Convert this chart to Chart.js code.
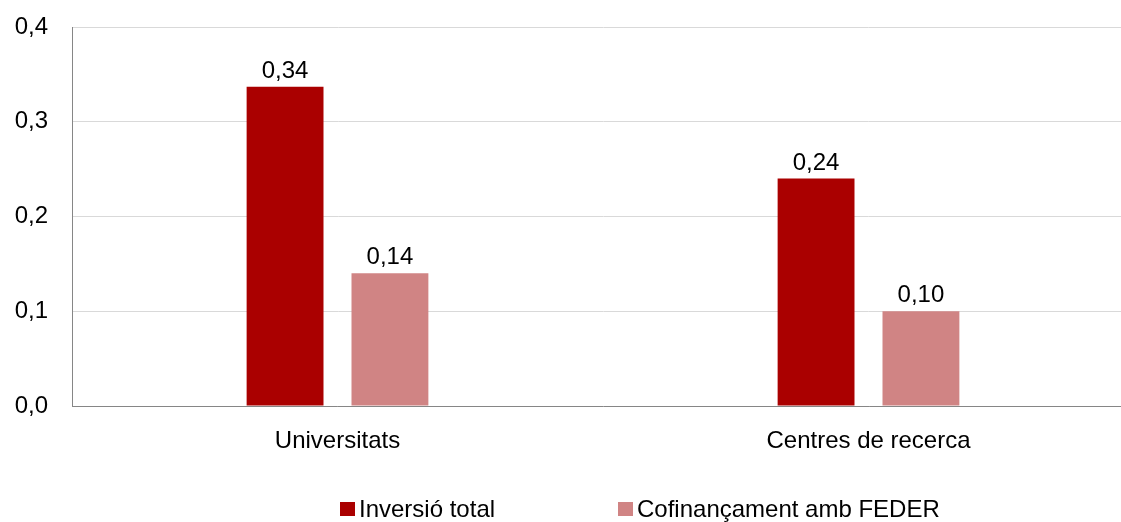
<!DOCTYPE html>
<html>
<head>
<meta charset="utf-8">
<script src="https://cdn.jsdelivr.net/npm/chart.js@4"></script>
<style>
  html, body { margin: 0; padding: 0; background: #ffffff; overflow: hidden; }
  #wrap { width: 1121px; height: 522px; position: relative; overflow: hidden; }
  #c { position: absolute; left: 0; top: 0; }
</style>
</head>
<body>
<div id="wrap"><canvas id="c" width="1134" height="522"></canvas></div>
<script>
const categories = ["Universitats", "Centres de recerca"];
const seriesNames = ["Inversió total", "Cofinançament amb FEDER"];
const inversioTotal = [0.337, 0.24];
const cofinancament = [0.14, 0.10];
const yTicks = [0.0, 0.1, 0.2, 0.3, 0.4];

const colors = ["#AA0000", "#D08484"];
const FONT = "'Liberation Sans', Arial, Helvetica, sans-serif";
const FS = 24;

const fmt = (v, d) => v.toFixed(d).replace('.', ',');

const dataLabels = {
  id: 'dataLabels',
  afterDatasetsDraw(chart) {
    const ctx = chart.ctx;
    ctx.save();
    ctx.font = FS + "px " + FONT;
    ctx.fillStyle = "#000000";
    ctx.textAlign = "center";
    ctx.textBaseline = "alphabetic";
    chart.data.datasets.forEach((ds, i) => {
      const meta = chart.getDatasetMeta(i);
      meta.data.forEach((bar, j) => {
        ctx.fillText(fmt(ds.data[j], 2), bar.x, bar.y - 9);
      });
    });
    ctx.restore();
  }
};

const customLegend = {
  id: 'customLegend',
  afterDraw(chart) {
    const ctx = chart.ctx;
    ctx.save();
    ctx.font = FS + "px " + FONT;
    ctx.textBaseline = "middle";
    ctx.textAlign = "left";
    const yMid = 509;
    const startX = 340;
    const step = 278;
    chart.data.datasets.forEach((ds, i) => {
      const x = startX + i * step;
      ctx.fillStyle = ds.backgroundColor;
      ctx.fillRect(x, yMid - 7, 15, 14);
      ctx.fillStyle = "#000000";
      ctx.fillText(ds.label, x + 19, yMid + 1);
    });
    ctx.restore();
  }
};

new Chart(document.getElementById('c'), {
  type: 'bar',
  data: {
    labels: categories,
    datasets: [
      { label: seriesNames[0], data: inversioTotal, backgroundColor: colors[0] },
      { label: seriesNames[1], data: cofinancament, backgroundColor: colors[1] }
    ]
  },
  options: {
    responsive: false,
    animation: false,
    devicePixelRatio: 1,
    layout: { padding: { top: 27, left: 0, right: 0, bottom: 0 } },
    datasets: { bar: { categoryPercentage: 0.395, barPercentage: 0.733 } },
    plugins: {
      legend: { display: false },
      tooltip: { enabled: false }
    },
    scales: {
      x: {
        grid: { display: false },
        border: { color: "#868686", width: 1 },
        ticks: { color: "#000000", font: { family: FONT, size: FS }, padding: 13 },
        afterFit(scale) {
          scale.height = 116;
          scale.paddingLeft = 0; scale.paddingRight = 0;
        }
      },
      y: {
        min: 0, max: 0.4,
        afterBuildTicks(scale) { scale.ticks = yTicks.map(v => ({ value: v })); },
        grid: { color: "#D9D9D9", drawTicks: false },
        border: { color: "#868686", width: 1 },
        ticks: {
          color: "#000000",
          font: { family: FONT, size: FS },
          padding: 24,
          callback: (v) => fmt(v, 1)
        },
        afterFit(scale) {
          scale.width = 72;
          scale.paddingTop = 0; scale.paddingBottom = 0;
        }
      }
    }
  },
  plugins: [dataLabels, customLegend]
});
</script>
</body>
</html>
